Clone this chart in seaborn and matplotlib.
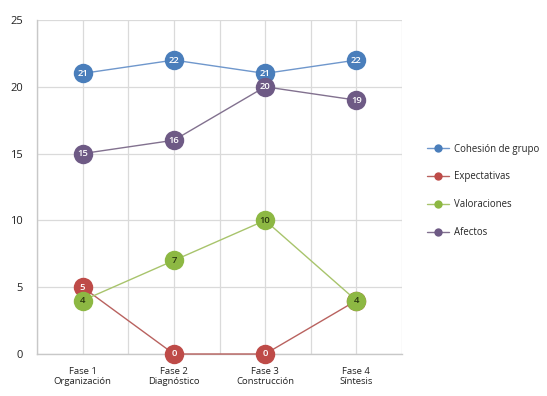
import matplotlib
matplotlib.use("Agg")
import matplotlib.pyplot as plt
import seaborn as sns
import pandas as pd
import numpy as np
from matplotlib.lines import Line2D
from matplotlib.ticker import MultipleLocator

fases = ["Fase 1\nOrganización", "Fase 2\nDiagnóstico", "Fase 3\nConstrucción", "Fase 4\nSíntesis"]
series_names = ["Cohesión de grupo", "Expectativas", "Valoraciones", "Afectos"]
cohesion = [21, 22, 21, 22]
expectativas = [5, 0, 0, 4]
valoraciones = [4, 7, 10, 4]
afectos = [15, 16, 20, 19]
values = [cohesion, expectativas, valoraciones, afectos]

marker_colors = ["#4A7EBB", "#BE4B48", "#8DB843", "#6E5A85"]
line_colors = ["#6F97CC", "#B9625F", "#A8C46C", "#82718F"]
text_colors = ["white", "white", "#2b3a10", "white"]

sns.set_theme(style="white")
plt.rcParams["font.family"] = ["Open Sans", "DejaVu Sans"]

fig = plt.figure(figsize=(5.47, 3.96), dpi=100)
ax = fig.add_axes([37/547, 42/396, (402-37)/547, (354-20)/396])

xs = np.arange(len(fases))
for i, (name, vals) in enumerate(zip(series_names, values)):
    df = pd.DataFrame({"x": xs, "y": vals})
    sns.lineplot(data=df, x="x", y="y", ax=ax, color=line_colors[i], linewidth=1.0,
                 marker="o", markersize=14, markerfacecolor=marker_colors[i],
                 markeredgewidth=0, zorder=3 + 2*i, legend=False)
    for xv, yv in zip(xs, vals):
        ax.text(xv, yv, str(yv), ha="center", va="center", fontsize=6.8,
                color=text_colors[i], fontweight="semibold", zorder=4 + 2*i,
                family=["Open Sans", "DejaVu Sans"], clip_on=False)
for ln in ax.lines:
    ln.set_clip_on(False)

ax.set_xlim(-0.5, 3.5)
ax.set_ylim(0, 25)
ax.set_xticks(xs)
ax.set_xticklabels(fases, fontsize=6.8, color="#222222", linespacing=1.25)
ax.xaxis.set_minor_locator(MultipleLocator(0.5))
ax.set_yticks(range(0, 26, 5))
ax.set_yticklabels([str(v) for v in range(0, 26, 5)], fontsize=8, color="#222222")
ax.grid(True, which="both", axis="x", color="#DADADA", linewidth=0.9)
ax.grid(True, which="major", axis="y", color="#DADADA", linewidth=0.9)
ax.set_axisbelow(True)
for s in ["top", "right"]:
    ax.spines[s].set_visible(False)
for s in ["left", "bottom"]:
    ax.spines[s].set_color("#C8C8C8")
    ax.spines[s].set_linewidth(1.0)
ax.tick_params(axis="both", which="both", length=0, pad=9)
ax.tick_params(axis="y", pad=10)
ax.set_xlabel("")
ax.set_ylabel("")

handles = [Line2D([0], [0], color=line_colors[i], linewidth=1.0, marker="o",
                  markersize=6, markerfacecolor=marker_colors[i], markeredgewidth=0)
           for i in range(4)]
fig.legend(handles, series_names, loc="upper left", bbox_to_anchor=(418/547, 1 - 135/396),
           frameon=False, fontsize=6.9, handlelength=2.3, labelspacing=1.75, handletextpad=0.6)

fig.savefig("out.png", dpi=100)
